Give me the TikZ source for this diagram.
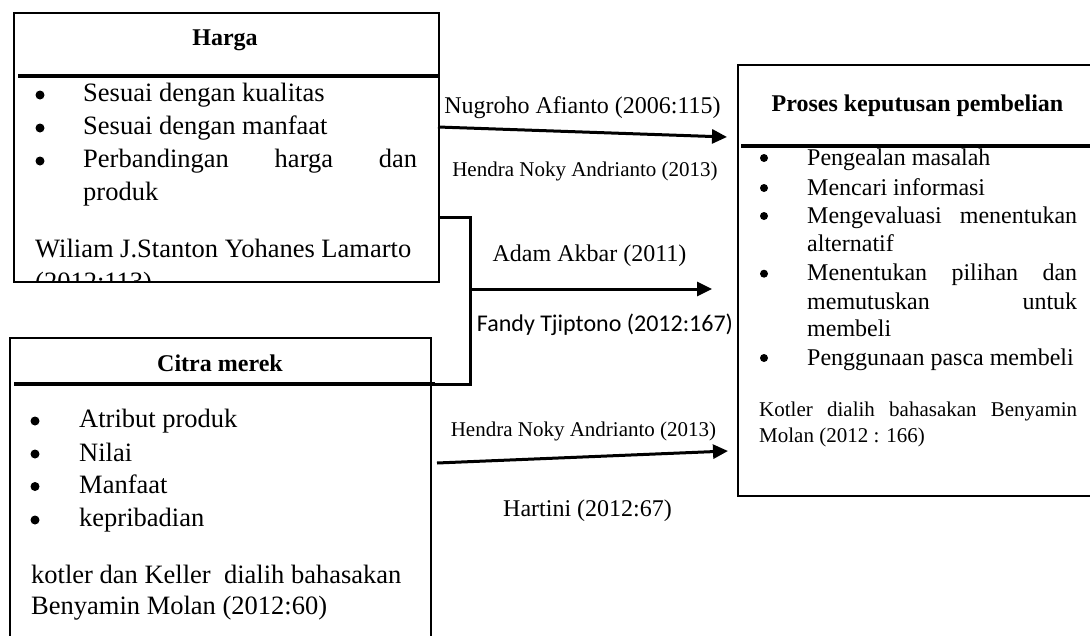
\documentclass[tikz,border=0pt]{standalone}
\usepackage{fontspec}
\setmainfont{Liberation Serif}
\newfontfamily\carlito{Carlito}
\usetikzlibrary{arrows.meta}
\tikzset{
  box/.style={draw, line width=2.2pt, rectangle, inner sep=0pt, anchor=north west},
  divider/.style={line width=3.2pt},
  conn/.style={line width=3pt},
  arr/.style={conn, -{Triangle[length=15pt,width=14pt]}},
  bodyL/.style={inner sep=0pt, anchor=base west, font=\fontsize{26.5}{33}\selectfont},
  bodyR/.style={inner sep=0pt, anchor=base west, font=\fontsize{24}{29}\selectfont},
  citeR/.style={inner sep=0pt, anchor=base west, font=\fontsize{21}{26}\selectfont},
  bulL/.style={circle, fill, inner sep=0pt, minimum size=9pt},
  bulR/.style={circle, fill, inner sep=0pt, minimum size=8pt},
  ttl/.style={inner sep=0pt, anchor=base, font=\bfseries\fontsize{24}{29}\selectfont},
  lab/.style={inner sep=0pt, anchor=base, font=\fontsize{24}{29}\selectfont},
  labsm/.style={inner sep=0pt, anchor=base, font=\fontsize{21}{26}\selectfont},
  labsans/.style={inner sep=0pt, anchor=base, font=\carlito\fontsize{24}{29}\selectfont},
}
\begin{document}
\begin{tikzpicture}[x=1pt,y=-1pt]
\useasboundingbox (0,0) rectangle (1090,635);
\clip (0,0) rectangle (1090,635);
\fill[white] (0,0) rectangle (1090,635);

% ---------- Harga box ----------
\node[box, minimum width=425pt, minimum height=269pt] (harga) at (13,12) {};
\coordinate (hdl) at (18,76);
\coordinate (hdr) at (438,76);
\draw[divider] (hdl) -- (hdr);
\node[ttl] (hargaT) at (225,45) {Harga};
\node[bulL] (hb1) at (40,95) {};
\node[bulL] (hb2) at (40,128) {};
\node[bulL] (hb3) at (40,161) {};
\node[bodyL] (ht1) at (83,101.5) {Sesuai dengan kualitas};
\node[bodyL] (ht2) at (83,134.5) {Sesuai dengan manfaat};
\node[bodyL] (ht3) at (83,167.5) {\makebox[334pt][s]{Perbandingan harga dan}};
\node[bodyL] (ht3b) at (83,200) {produk};
\node[bodyL] (hc1) at (35,257) {Wiliam J.Stanton Yohanes Lamarto};
\begin{scope}
  \clip (13,12) rectangle (438,280);
  \node[bodyL] (hc2) at (35,290) {(2012:113)};
\end{scope}

% ---------- Citra merek box ----------
\node[box, minimum width=421pt, minimum height=330pt] (citra) at (9,337) {};
\coordinate (cdl) at (14,384);
\coordinate (cdr) at (435,384);
\draw[divider] (cdl) -- (cdr);
\node[ttl] (citraT) at (220,371) {Citra merek};
\node[bulL] (cb1) at (35,421) {};
\node[bulL] (cb2) at (35,454) {};
\node[bulL] (cb3) at (35,486.5) {};
\node[bulL] (cb4) at (35,520) {};
\node[bodyL] (ct1) at (79,427.7) {Atribut produk};
\node[bodyL] (ct2) at (79,461) {Nilai};
\node[bodyL] (ct3) at (79,493) {Manfaat};
\node[bodyL] (ct4) at (79,526.7) {kepribadian};
\node[bodyL] (cc1) at (31,583) {kotler dan Keller\ \ dialih bahasakan};
\node[bodyL] (cc2) at (31,614) {Benyamin Molan (2012:60)};

% ---------- Proses keputusan pembelian box ----------
\node[box, minimum width=370pt, minimum height=431pt] (proses) at (737,64) {};
\coordinate (pdl) at (741,146);
\coordinate (pdr) at (1095,146);
\draw[divider] (pdl) -- (pdr);
\node[ttl] (prosesT) at (917.5,111) {Proses keputusan pembelian};
\node[bulR] (pb1) at (764,158) {};
\node[bulR] (pb2) at (764,188) {};
\node[bulR] (pb3) at (764,216) {};
\node[bulR] (pb4) at (764,273.7) {};
\node[bulR] (pb5) at (764,358) {};
\node[bodyR] (pt1) at (807,165) {Pengealan masalah};
\node[bodyR] (pt2) at (807,195) {Mencari informasi};
\node[bodyR] (pt3) at (807,223) {\makebox[270pt][s]{Mengevaluasi menentukan}};
\node[bodyR] (pt3b) at (807,251.7) {alternatif};
\node[bodyR] (pt4) at (807,280.7) {\makebox[270pt][s]{Menentukan pilihan dan}};
\node[bodyR] (pt4b) at (807,309) {\makebox[270pt][s]{memutuskan untuk}};
\node[bodyR] (pt4c) at (807,336) {membeli};
\node[bodyR] (pt5) at (807,365) {Penggunaan pasca membeli};
\node[citeR] (pc1) at (759,416.7) {\makebox[318pt][s]{Kotler dialih bahasakan Benyamin}};
\node[citeR] (pc2) at (759,442.3) {Molan (2012 : 166)};

% ---------- connectors ----------
\coordinate (a1s) at (438,127);
\coordinate (a1e) at (727,137);
\draw[arr] (a1s) -- (a1e);

\coordinate (brT) at (440,217);
\coordinate (brJ) at (470,289);
\draw[conn] (brT) -- (470,217) -- (470,384) -- (cdr);
\coordinate (a2e) at (712,289);
\draw[arr] (brJ) -- (a2e);

\coordinate (a3s) at (437,463);
\coordinate (a3e) at (728,451);
\draw[arr] (a3s) -- (a3e);

% ---------- labels ----------
\node[lab] (l1) at (582.5,113) {Nugroho Afianto (2006:115)};
\node[labsm] (l2) at (585,176) {Hendra Noky Andrianto (2013)};
\node[lab] (l3) at (589.5,261) {Adam Akbar (2011)};
\node[labsans] (l4) at (605,331.7) {Fandy Tjiptono (2012:167)};
\node[labsm] (l5) at (583.5,436) {Hendra Noky Andrianto (2013)};
\node[lab] (l6) at (587.5,516.7) {Hartini (2012:67)};
\end{tikzpicture}
\end{document}
